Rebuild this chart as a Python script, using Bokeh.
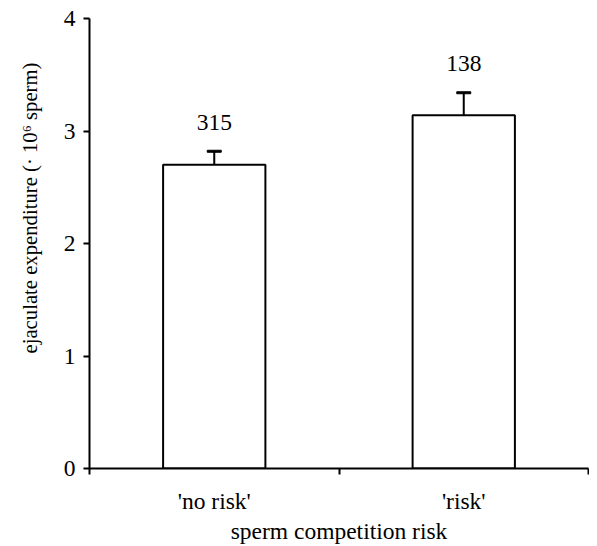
from bokeh.plotting import figure
from bokeh.models import FixedTicker, Range1d, ColumnDataSource, Title
from bokeh.core.properties import value
from bokeh.embed import file_html
from bokeh.resources import INLINE

categories = ["'no risk'", "'risk'"]
means = [2.70, 3.14]
errors = [0.12, 0.20]
n_labels = ["315", "138"]
y_ticks = [0, 1, 2, 3, 4]
y_title = "ejaculate expenditure (· 10⁶ sperm)"

FONT = "Liberation Serif"

xs = [i + 0.5 for i in range(len(categories))]
tops = [m + e for m, e in zip(means, errors)]

p = figure(width=589, height=546, output_backend="svg", toolbar_location=None,
           x_range=Range1d(0, len(categories)), y_range=Range1d(0, 4),
           min_border_left=87, min_border_right=1, min_border_top=18, min_border_bottom=78)
p.outline_line_color = None
p.xgrid.visible = False
p.ygrid.visible = False
p.background_fill_color = "white"

src = ColumnDataSource(dict(x=xs, top=means, err_top=tops, label=n_labels))

p.vbar(x="x", top="top", bottom=0, width=0.41, source=src,
       fill_color="white", line_color="black", line_width=2)
p.segment(x0="x", y0="top", x1="x", y1="err_top", source=src, line_color="black", line_width=2)
p.rect(x="x", y="err_top", width=14, height=2, width_units="screen", height_units="screen",
       source=src, fill_color="black", line_color="black", line_width=1)
p.text(x="x", y="err_top", text="label", source=src, y_offset=-29,
       text_align="center", text_baseline="middle", text_font=value(FONT),
       text_font_size="23.5px", text_color="black")

# x axis
xa = p.xaxis[0]
xa.ticker = FixedTicker(ticks=xs, minor_ticks=list(range(len(categories) + 1)))
xa.major_label_overrides = {x: c for x, c in zip(xs, categories)}
xa.major_tick_out = 0
xa.major_tick_in = 0
xa.minor_tick_out = 6
xa.minor_tick_in = 0
xa.minor_tick_line_width = 2
xa.minor_tick_line_color = "black"
xa.axis_line_width = 2
xa.axis_line_color = "black"
xa.major_label_text_font = FONT
xa.major_label_text_font_size = "23.5px"
xa.major_label_text_color = "black"
xa.major_label_standoff = 13
xa.axis_label = "sperm competition risk"
xa.axis_label_text_font = FONT
xa.axis_label_text_font_size = "23.5px"
xa.axis_label_text_font_style = "normal"
xa.axis_label_text_color = "black"
xa.axis_label_standoff = 1

ya = p.yaxis[0]
ya.ticker = FixedTicker(ticks=y_ticks, minor_ticks=[])
ya.major_tick_out = 6
ya.major_tick_in = 0
ya.major_tick_line_width = 2
ya.major_tick_line_color = "black"
ya.axis_line_width = 2
ya.axis_line_color = "black"
ya.major_label_text_font = FONT
ya.major_label_text_font_size = "23.5px"
ya.major_label_text_color = "black"
ya.major_label_standoff = 8

# y axis title, placed off-centre as in the original
p.add_layout(Title(text=y_title, align="left", offset=115, standoff=36,
                   vertical_align="top",
                   text_font=FONT, text_font_size="20.7px", text_font_style="normal",
                   text_color="black"), "left")

open("out.html", "w").write(file_html(p, INLINE))
